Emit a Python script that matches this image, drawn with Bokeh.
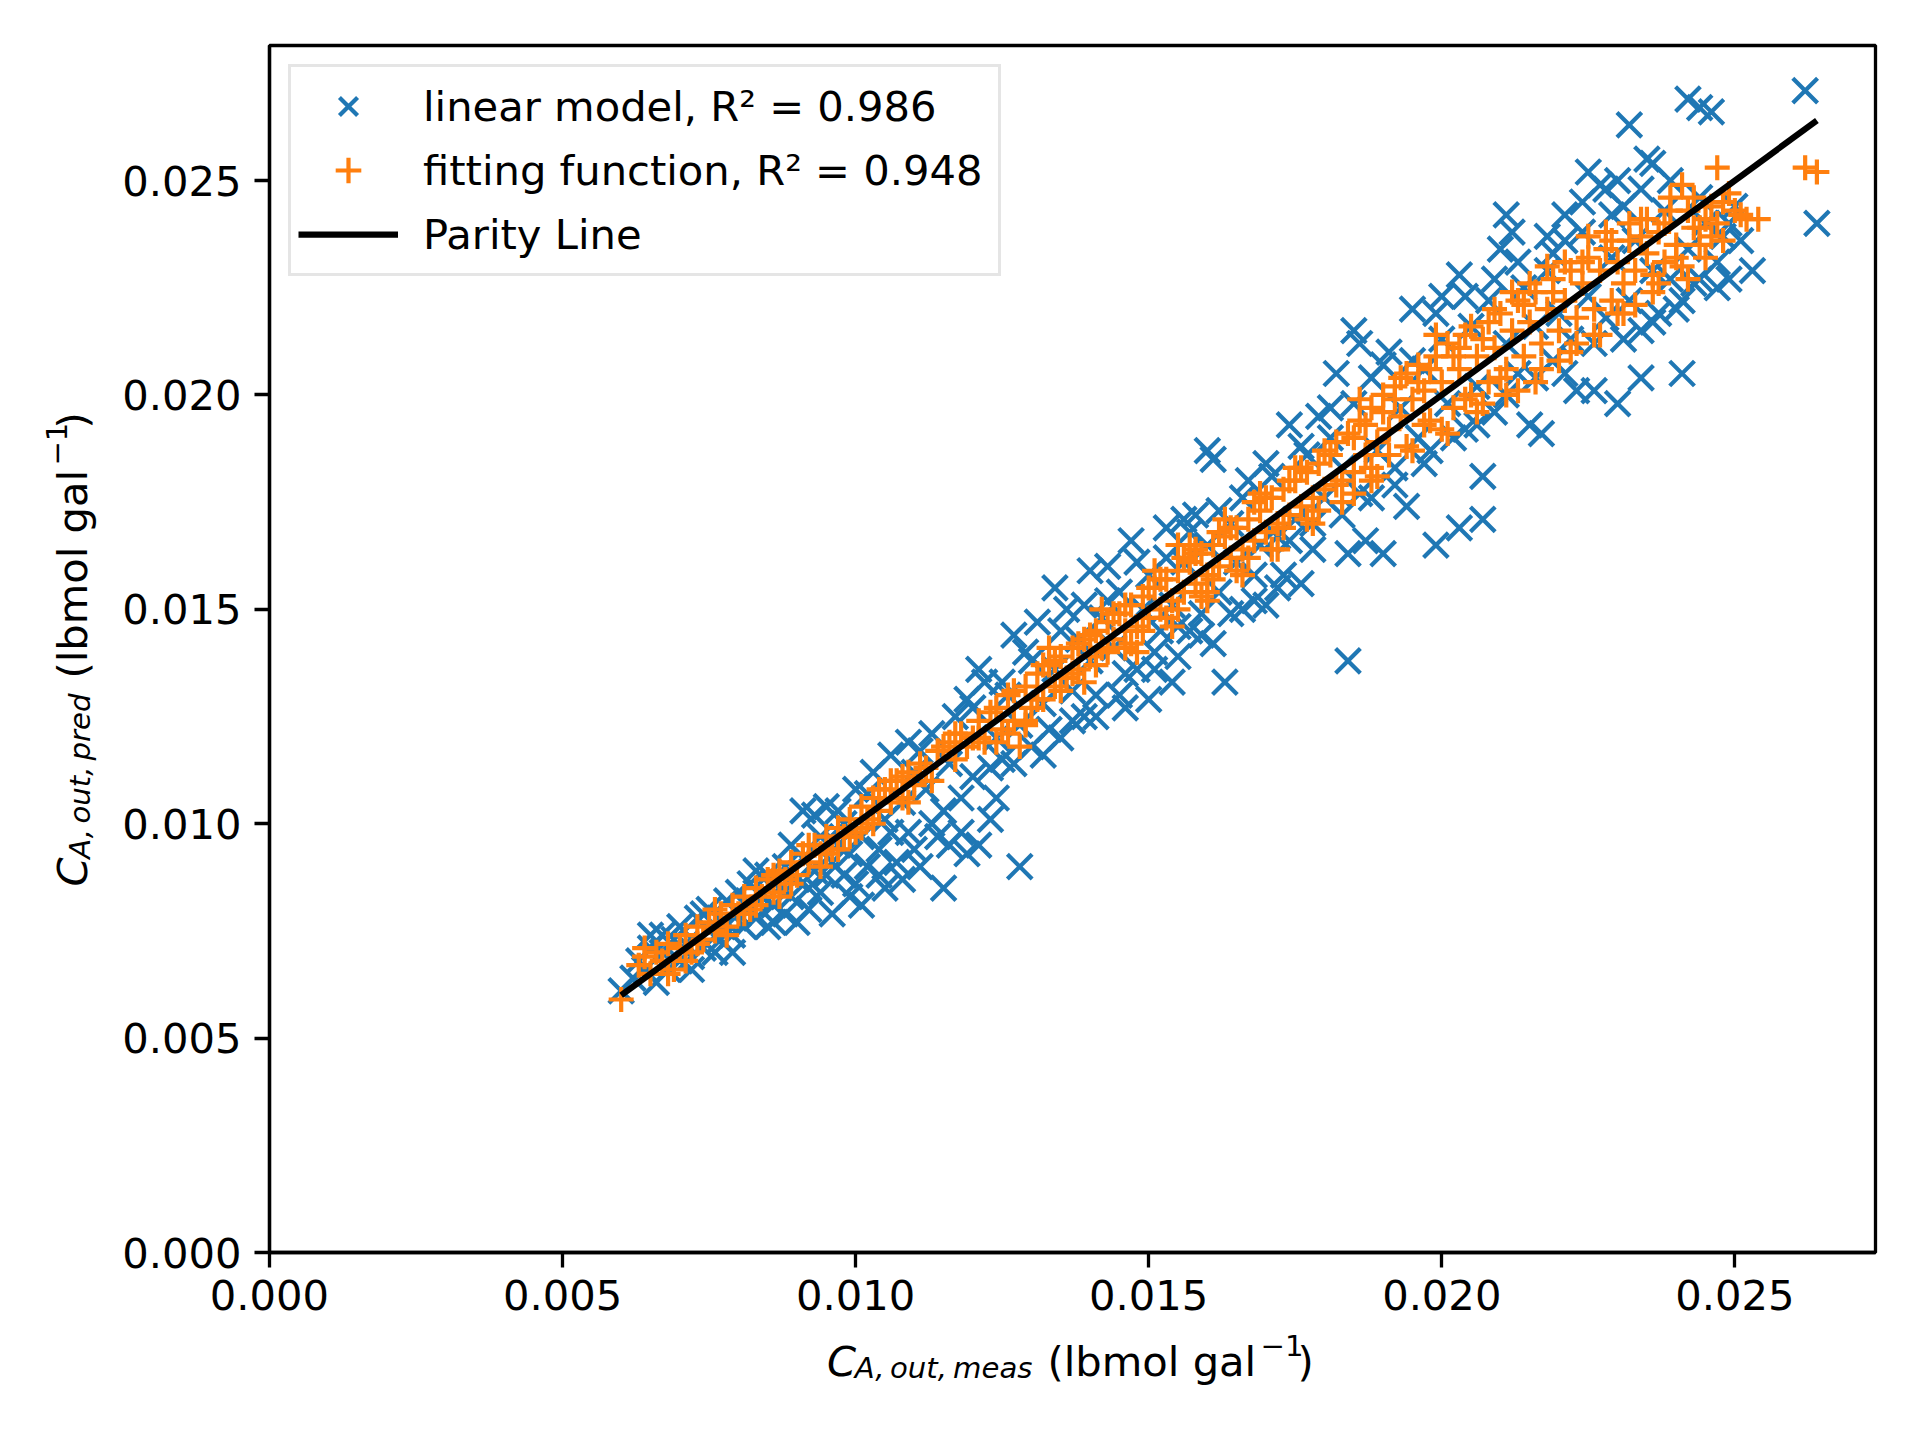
import math
from bokeh.plotting import figure
from bokeh.models import (Range1d, FixedTicker, PrintfTickFormatter, Legend,
                          LegendItem)
from bokeh.layouts import row, column
from bokeh.core.properties import value
from bokeh.embed import file_html
from bokeh.resources import INLINE

# ---------------- data ----------------
lin_meas = [
    0.0060, 0.0062, 0.0063, 0.0064, 0.0065, 0.0065, 0.0066, 0.0067, 0.0068, 0.0069,
    0.0070, 0.0070, 0.0071, 0.0072, 0.0073, 0.0074, 0.0075, 0.0075, 0.0076, 0.0077,
    0.0078, 0.0078, 0.0079, 0.0080, 0.0080, 0.0081, 0.0082, 0.0082, 0.0083, 0.0084,
    0.0085, 0.0085, 0.0086, 0.0087, 0.0088, 0.0088, 0.0089, 0.0090, 0.0090, 0.0091,
    0.0091, 0.0092, 0.0093, 0.0093, 0.0094, 0.0094, 0.0095, 0.0096, 0.0096, 0.0097,
    0.0098, 0.0098, 0.0099, 0.0100, 0.0100, 0.0101, 0.0101, 0.0102, 0.0103, 0.0104,
    0.0105, 0.0105, 0.0106, 0.0107, 0.0108, 0.0108, 0.0109, 0.0110, 0.0110, 0.0111,
    0.0112, 0.0113, 0.0114, 0.0115, 0.0115, 0.0116, 0.0117, 0.0118, 0.0119, 0.0119,
    0.0120, 0.0121, 0.0121, 0.0122, 0.0123, 0.0124, 0.0124, 0.0125, 0.0126, 0.0127,
    0.0128, 0.0128, 0.0129, 0.0130, 0.0131, 0.0132, 0.0133, 0.0134, 0.0134, 0.0135,
    0.0136, 0.0137, 0.0138, 0.0139, 0.0140, 0.0140, 0.0141, 0.0142, 0.0143, 0.0144,
    0.0145, 0.0145, 0.0146, 0.0147, 0.0148, 0.0149, 0.0150, 0.0150, 0.0151, 0.0152,
    0.0153, 0.0154, 0.0154, 0.0155, 0.0156, 0.0156, 0.0157, 0.0158, 0.0159, 0.0160,
    0.0160, 0.0161, 0.0161, 0.0162, 0.0163, 0.0164, 0.0165, 0.0166, 0.0167, 0.0168,
    0.0169, 0.0170, 0.0171, 0.0172, 0.0173, 0.0174, 0.0175, 0.0176, 0.0177, 0.0178,
    0.0179, 0.0180, 0.0181, 0.0182, 0.0183, 0.0184, 0.0184, 0.0185, 0.0186, 0.0186,
    0.0187, 0.0188, 0.0189, 0.0190, 0.0191, 0.0192, 0.0193, 0.0194, 0.0195, 0.0196,
    0.0197, 0.0198, 0.0199, 0.0200, 0.0200, 0.0201, 0.0203, 0.0203, 0.0204, 0.0205,
    0.0206, 0.0207, 0.0207, 0.0208, 0.0209, 0.0210, 0.0211, 0.0211, 0.0212, 0.0213,
    0.0214, 0.0215, 0.0216, 0.0217, 0.0218, 0.0218, 0.0219, 0.0220, 0.0221, 0.0221,
    0.0222, 0.0223, 0.0224, 0.0225, 0.0225, 0.0226, 0.0227, 0.0228, 0.0228, 0.0229,
    0.0230, 0.0230, 0.0231, 0.0232, 0.0232, 0.0233, 0.0234, 0.0234, 0.0235, 0.0236,
    0.0236, 0.0237, 0.0238, 0.0239, 0.0240, 0.0241, 0.0242, 0.0242, 0.0243, 0.0244,
    0.0244, 0.0245, 0.0246, 0.0247, 0.0248, 0.0249, 0.0250, 0.0251, 0.0253, 0.0262,
    0.0264,
    0.0067, 0.0072, 0.0074, 0.0079, 0.0083, 0.0086, 0.0089, 0.0092, 0.0095, 0.0097,
    0.0099, 0.0102, 0.0104, 0.0106, 0.0109, 0.0111, 0.0113, 0.0116, 0.0118, 0.0120,
    0.0123, 0.0125, 0.0127, 0.0130, 0.0132, 0.0135, 0.0137, 0.0139, 0.0141, 0.0143,
    0.0146, 0.0148, 0.0151, 0.0153, 0.0155, 0.0157, 0.0159, 0.0162, 0.0164, 0.0166,
    0.0168, 0.0170, 0.0172, 0.0174, 0.0176, 0.0178, 0.0181, 0.0183, 0.0185, 0.0188,
    0.0190, 0.0192, 0.0195, 0.0197, 0.0199, 0.0202, 0.0204, 0.0206, 0.0209, 0.0211,
    0.0213, 0.0216, 0.0219, 0.0221, 0.0224, 0.0226, 0.0229, 0.0231, 0.0234, 0.0236,
    0.0239, 0.0241, 0.0244, 0.0247, 0.0249,
]
lin_pred = [
    0.0061, 0.0064, 0.0068, 0.0066, 0.0074, 0.0071, 0.0063, 0.0070, 0.0066, 0.0073,
    0.0068, 0.0076, 0.0072, 0.0069, 0.0078, 0.0071, 0.0075, 0.0080, 0.0070, 0.0073,
    0.0082, 0.0077, 0.0074, 0.0079, 0.0084, 0.0076, 0.0086, 0.0080, 0.0078, 0.0083,
    0.0088, 0.0076, 0.0081, 0.0085, 0.0079, 0.0090, 0.0083, 0.0087, 0.0077, 0.0103,
    0.0092, 0.0080, 0.0102, 0.0089, 0.0097, 0.0084, 0.0104, 0.0091, 0.0079, 0.0095,
    0.0088, 0.0100, 0.0093, 0.0086, 0.0108, 0.0081, 0.0097, 0.0090, 0.0112, 0.0094,
    0.0085, 0.0101, 0.0116, 0.0091, 0.0087, 0.0105, 0.0119, 0.0094, 0.0112, 0.0090,
    0.0108, 0.0121, 0.0097, 0.0085, 0.0103, 0.0095, 0.0125, 0.0106, 0.0129, 0.0093,
    0.0111, 0.0136, 0.0095, 0.0133, 0.0113, 0.0106, 0.0120, 0.0115, 0.0130, 0.0144,
    0.0090, 0.0123, 0.0140, 0.0118, 0.0147, 0.0128, 0.0122, 0.0155, 0.0136, 0.0120,
    0.0150, 0.0131, 0.0143, 0.0125, 0.0159, 0.0138, 0.0130, 0.0148, 0.0160, 0.0141,
    0.0130, 0.0154, 0.0127, 0.0166, 0.0136, 0.0150, 0.0129, 0.0158, 0.0140, 0.0145,
    0.0169, 0.0133, 0.0151, 0.0139, 0.0161, 0.0171, 0.0145, 0.0172, 0.0149, 0.0187,
    0.0165, 0.0185, 0.0142, 0.0154, 0.0133, 0.0170, 0.0161, 0.0150, 0.0180, 0.0158,
    0.0165, 0.0151, 0.0181, 0.0167, 0.0158, 0.0193, 0.0171, 0.0156, 0.0186, 0.0164,
    0.0195, 0.0176, 0.0197, 0.0205, 0.0183, 0.0163, 0.0138, 0.0215, 0.0212, 0.0177,
    0.0166, 0.0204, 0.0187, 0.0163, 0.0210, 0.0179, 0.0197, 0.0174, 0.0220, 0.0190,
    0.0206, 0.0187, 0.0165, 0.0213, 0.0223, 0.0198, 0.0228, 0.0169, 0.0192, 0.0216,
    0.0202, 0.0181, 0.0171, 0.0222, 0.0196, 0.0234, 0.0242, 0.0212, 0.0238, 0.0205,
    0.0225, 0.0193, 0.0216, 0.0191, 0.0237, 0.0229, 0.0208, 0.0219, 0.0242, 0.0236,
    0.0213, 0.0201, 0.0245, 0.0252, 0.0223, 0.0201, 0.0249, 0.0218, 0.0248, 0.0232,
    0.0250, 0.0198, 0.0244, 0.0263, 0.0222, 0.0236, 0.0204, 0.0215, 0.0255, 0.0254,
    0.0229, 0.0219, 0.0243, 0.0227, 0.0220, 0.0205, 0.0269, 0.0234, 0.0226, 0.0267,
    0.0227, 0.0240, 0.0266, 0.0231, 0.0237, 0.0227, 0.0244, 0.0236, 0.0229, 0.0271,
    0.0240,
    0.0074, 0.0066, 0.0079, 0.0070, 0.0089, 0.0077, 0.0095, 0.0085, 0.0088, 0.0103,
    0.0083, 0.0107, 0.0088, 0.0098, 0.0098, 0.0117, 0.0100, 0.0114, 0.0098, 0.0127,
    0.0101, 0.0133, 0.0114, 0.0138, 0.0116, 0.0145, 0.0124, 0.0151, 0.0125, 0.0152,
    0.0135, 0.0161, 0.0136, 0.0162, 0.0146, 0.0168, 0.0144, 0.0173, 0.0149, 0.0176,
    0.0152, 0.0184, 0.0155, 0.0166, 0.0188, 0.0170, 0.0190, 0.0172, 0.0198, 0.0176,
    0.0207, 0.0183, 0.0208, 0.0184, 0.0219, 0.0190, 0.0223, 0.0193, 0.0227, 0.0200,
    0.0231, 0.0204, 0.0233, 0.0205, 0.0238, 0.0212, 0.0242, 0.0213, 0.0248, 0.0217,
    0.0250, 0.0222, 0.0246, 0.0225, 0.0240,
]

fit_meas = [
    0.0060, 0.0063, 0.0064, 0.0065, 0.0066, 0.0067, 0.0068, 0.0069, 0.0070, 0.0071,
    0.0072, 0.0073, 0.0074, 0.0075, 0.0076, 0.0077, 0.0078, 0.0079, 0.0080, 0.0081,
    0.0082, 0.0083, 0.0084, 0.0085, 0.0086, 0.0087, 0.0088, 0.0089, 0.0090, 0.0091,
    0.0092, 0.0093, 0.0094, 0.0095, 0.0096, 0.0097, 0.0098, 0.0099, 0.0100, 0.0101,
    0.0102, 0.0103, 0.0104, 0.0105, 0.0106, 0.0107, 0.0108, 0.0109, 0.0110, 0.0112,
    0.0114, 0.0116, 0.0117, 0.0118, 0.0120, 0.0121, 0.0122, 0.0124, 0.0125, 0.0126,
    0.0127, 0.0128, 0.0129, 0.0130, 0.0131, 0.0132, 0.0133, 0.0134, 0.0135, 0.0136,
    0.0137, 0.0138, 0.0139, 0.0140, 0.0141, 0.0142, 0.0143, 0.0144, 0.0145, 0.0146,
    0.0147, 0.0148, 0.0149, 0.0150, 0.0151, 0.0152, 0.0153, 0.0154, 0.0155, 0.0156,
    0.0157, 0.0158, 0.0159, 0.0160, 0.0161, 0.0162, 0.0163, 0.0164, 0.0165, 0.0166,
    0.0167, 0.0168, 0.0169, 0.0170, 0.0171, 0.0172, 0.0173, 0.0174, 0.0175, 0.0176,
    0.0177, 0.0178, 0.0179, 0.0180, 0.0181, 0.0182, 0.0183, 0.0184, 0.0185, 0.0186,
    0.0187, 0.0188, 0.0189, 0.0190, 0.0191, 0.0192, 0.0193, 0.0194, 0.0195, 0.0196,
    0.0197, 0.0198, 0.0199, 0.0200, 0.0201, 0.0202, 0.0203, 0.0204, 0.0205, 0.0206,
    0.0207, 0.0208, 0.0209, 0.0210, 0.0211, 0.0212, 0.0213, 0.0214, 0.0215, 0.0216,
    0.0217, 0.0218, 0.0219, 0.0220, 0.0221, 0.0222, 0.0223, 0.0224, 0.0225, 0.0226,
    0.0227, 0.0228, 0.0229, 0.0230, 0.0231, 0.0232, 0.0233, 0.0234, 0.0235, 0.0236,
    0.0237, 0.0238, 0.0239, 0.0240, 0.0241, 0.0242, 0.0243, 0.0244, 0.0245, 0.0246,
    0.0247, 0.0248, 0.0249, 0.0250, 0.0252, 0.0254, 0.0262, 0.0264,
    0.0146, 0.0155, 0.0160, 0.0158, 0.0129, 0.0124, 0.0185, 0.0188,
    0.0064, 0.0068, 0.0071, 0.0073, 0.0076, 0.0078, 0.0081, 0.0083, 0.0086, 0.0087,
    0.0089, 0.0092, 0.0094, 0.0095, 0.0097, 0.0099, 0.0101, 0.0103, 0.0104, 0.0106,
    0.0108, 0.0109, 0.0111, 0.0113, 0.0115, 0.0117, 0.0119, 0.0121, 0.0123, 0.0126,
    0.0127, 0.0129, 0.0131, 0.0132, 0.0134, 0.0135, 0.0137, 0.0138, 0.0140, 0.0141,
    0.0143, 0.0144, 0.0146, 0.0147, 0.0149, 0.0150, 0.0152, 0.0153, 0.0155, 0.0156,
    0.0158, 0.0159, 0.0161, 0.0162, 0.0164, 0.0165, 0.0167, 0.0168, 0.0170, 0.0171,
    0.0173, 0.0174, 0.0176, 0.0177, 0.0179, 0.0180, 0.0182, 0.0183, 0.0185, 0.0186,
    0.0188, 0.0190, 0.0191, 0.0193, 0.0194, 0.0196, 0.0197, 0.0199, 0.0200, 0.0202,
    0.0204, 0.0205, 0.0207, 0.0209, 0.0210, 0.0212, 0.0213, 0.0215, 0.0217, 0.0218,
    0.0220, 0.0221, 0.0223, 0.0225, 0.0226, 0.0228, 0.0230, 0.0232, 0.0233, 0.0235,
    0.0237, 0.0239, 0.0241, 0.0243, 0.0246, 0.0248, 0.0251,
    0.0133, 0.0139, 0.0142, 0.0148, 0.0151, 0.0154, 0.0157, 0.0160, 0.0163, 0.0166,
    0.0169, 0.0172, 0.0175, 0.0178, 0.0187, 0.0189, 0.0192, 0.0195, 0.0198, 0.0201,
    0.0203, 0.0206, 0.0208, 0.0211, 0.0214, 0.0216, 0.0219, 0.0222, 0.0224, 0.0227,
    0.0229, 0.0231, 0.0234, 0.0236, 0.0238, 0.0240, 0.0242, 0.0244, 0.0245, 0.0247,
]
fit_pred = [
    0.0059, 0.0067, 0.0069, 0.0065, 0.0070, 0.0068, 0.0072, 0.0066, 0.0071, 0.0074,
    0.0070, 0.0076, 0.0073, 0.0077, 0.0075, 0.0079, 0.0076, 0.0081, 0.0079, 0.0083,
    0.0080, 0.0085, 0.0083, 0.0087, 0.0084, 0.0089, 0.0087, 0.0091, 0.0088, 0.0093,
    0.0091, 0.0095, 0.0093, 0.0097, 0.0094, 0.0099, 0.0097, 0.0101, 0.0098, 0.0104,
    0.0101, 0.0106, 0.0103, 0.0108, 0.0105, 0.0110, 0.0106, 0.0112, 0.0109, 0.0113,
    0.0117, 0.0119, 0.0115, 0.0121, 0.0120, 0.0124, 0.0119, 0.0127, 0.0122, 0.0130,
    0.0124, 0.0118, 0.0132, 0.0127, 0.0135, 0.0129, 0.0137, 0.0132, 0.0139, 0.0134,
    0.0141, 0.0136, 0.0143, 0.0139, 0.0145, 0.0141, 0.0147, 0.0143, 0.0149, 0.0145,
    0.0151, 0.0146, 0.0153, 0.0148, 0.0155, 0.0150, 0.0157, 0.0152, 0.0159, 0.0154,
    0.0161, 0.0156, 0.0163, 0.0158, 0.0165, 0.0160, 0.0167, 0.0162, 0.0169, 0.0164,
    0.0171, 0.0166, 0.0173, 0.0168, 0.0176, 0.0170, 0.0178, 0.0172, 0.0180, 0.0174,
    0.0182, 0.0176, 0.0184, 0.0178, 0.0186, 0.0179, 0.0175, 0.0191, 0.0182, 0.0194,
    0.0186, 0.0197, 0.0189, 0.0200, 0.0192, 0.0202, 0.0195, 0.0205, 0.0199, 0.0207,
    0.0201, 0.0194, 0.0209, 0.0203, 0.0212, 0.0197, 0.0206, 0.0214, 0.0200, 0.0209,
    0.0213, 0.0203, 0.0211, 0.0219, 0.0206, 0.0215, 0.0222, 0.0209, 0.0217, 0.0224,
    0.0212, 0.0220, 0.0227, 0.0215, 0.0222, 0.0229, 0.0218, 0.0226, 0.0237, 0.0220,
    0.0229, 0.0234, 0.0222, 0.0231, 0.0226, 0.0236, 0.0229, 0.0241, 0.0233, 0.0224,
    0.0238, 0.0231, 0.0243, 0.0235, 0.0249, 0.0227, 0.0246, 0.0239, 0.0232, 0.0244,
    0.0253, 0.0236, 0.0247, 0.0243, 0.0241, 0.0241, 0.0253, 0.0252,
    0.0141, 0.0165, 0.0154, 0.0164, 0.0123, 0.0119, 0.0190, 0.0180,
    0.0071, 0.0065, 0.0068, 0.0072, 0.0080, 0.0074, 0.0079, 0.0081, 0.0088, 0.0083,
    0.0086, 0.0095, 0.0090, 0.0093, 0.0094, 0.0097, 0.0099, 0.0100, 0.0108, 0.0110,
    0.0111, 0.0105, 0.0114, 0.0110, 0.0118, 0.0121, 0.0118, 0.0120, 0.0126, 0.0121,
    0.0131, 0.0124, 0.0129, 0.0137, 0.0138, 0.0131, 0.0135, 0.0142, 0.0144, 0.0137,
    0.0140, 0.0149, 0.0151, 0.0142, 0.0145, 0.0155, 0.0157, 0.0148, 0.0150, 0.0162,
    0.0163, 0.0153, 0.0157, 0.0168, 0.0169, 0.0159, 0.0162, 0.0175, 0.0176, 0.0164,
    0.0169, 0.0180, 0.0183, 0.0171, 0.0173, 0.0187, 0.0189, 0.0180, 0.0177, 0.0199,
    0.0183, 0.0196, 0.0186, 0.0204, 0.0188, 0.0203, 0.0193, 0.0214, 0.0192, 0.0209,
    0.0199, 0.0216, 0.0198, 0.0220, 0.0204, 0.0224, 0.0201, 0.0226, 0.0206, 0.0230,
    0.0208, 0.0231, 0.0212, 0.0232, 0.0214, 0.0238, 0.0219, 0.0240, 0.0221, 0.0241,
    0.0226, 0.0246, 0.0230, 0.0239, 0.0237, 0.0245, 0.0242,
    0.0141, 0.0133, 0.0150, 0.0140, 0.0159, 0.0146, 0.0165, 0.0152, 0.0171, 0.0158,
    0.0177, 0.0164, 0.0183, 0.0170, 0.0193, 0.0181, 0.0199, 0.0187, 0.0206, 0.0191,
    0.0211, 0.0196, 0.0217, 0.0200, 0.0221, 0.0203, 0.0224, 0.0210, 0.0231, 0.0214,
    0.0236, 0.0219, 0.0237, 0.0228, 0.0240, 0.0232, 0.0243, 0.0235, 0.0241, 0.0240,
]

legend_labels = ["linear model, R\u00b2 = 0.986",
                 "fitting function, R\u00b2 = 0.948",
                 "Parity Line"]
tick_values = [0.000, 0.005, 0.010, 0.015, 0.020, 0.025]

# ---------------- layout constants ----------------
XMAX, YMAX = 0.0274, 0.02815
FW, FH = 1606, 1207
LB, TB, RB, BB = 159, 45, 44, 78
YW = 110                      # width of the y-label strip
MAIN_W = LB + FW + RB
MAIN_H = TB + FH + BB
XH = 108                      # height of the x-label strip
BIG, SMALL = "41.67px", "29.17px"
FONT = "DejaVu Sans"
SHIFT = 15                    # glyph baseline compensation (px)

p = figure(frame_width=FW, frame_height=FH,
           min_border_left=LB, min_border_top=TB,
           min_border_right=RB, min_border_bottom=BB,
           x_range=Range1d(0, XMAX), y_range=Range1d(0, YMAX),
           output_backend="svg", toolbar_location=None)
p.grid.visible = False
p.background_fill_color = "white"
p.border_fill_color = "white"
p.outline_line_color = "black"
p.outline_line_width = 3.3

for ax in (p.xaxis[0], p.yaxis[0]):
    ax.ticker = FixedTicker(ticks=tick_values)
    ax.formatter = PrintfTickFormatter(format="%.3f")
    ax.axis_line_width = 3.3
    ax.axis_line_color = "black"
    ax.major_tick_line_width = 3.3
    ax.major_tick_line_color = "black"
    ax.major_tick_out = 15
    ax.major_tick_in = 0
    ax.minor_tick_line_color = None
    ax.major_label_text_font = FONT
    ax.major_label_text_font_size = BIG
    ax.major_label_text_color = "black"
p.xaxis[0].major_label_standoff = 12
p.yaxis[0].major_label_standoff = 13

r_lin = p.scatter(lin_meas, lin_pred, marker="x", size=35,
                  line_color="#1f77b4", line_width=4.2)
r_fit = p.scatter(fit_meas, fit_pred, marker="cross", size=25,
                  line_color="#ff7f0e", line_width=4.2)
lo = min(lin_meas + fit_meas)
hi = max(lin_meas + fit_meas)
r_par = p.line([lo, hi], [lo, hi], line_color="black", line_width=6.25)

legend = Legend(items=[LegendItem(label=legend_labels[0], renderers=[r_lin]),
                       LegendItem(label=legend_labels[1], renderers=[r_fit]),
                       LegendItem(label=legend_labels[2], renderers=[r_par])],
                location=(19, FH - 25 - 206),
                label_text_font=FONT, label_text_font_size=BIG,
                label_text_color="black",
                glyph_width=100, glyph_height=64, label_height=64,
                label_width=568, label_standoff=25, padding=7, spacing=0,
                margin=0,
                border_line_color="#cccccc", border_line_width=3.5,
                background_fill_color="white", background_fill_alpha=0.8)
p.add_layout(legend)


def text_strip(w, h, top=0, bottom=0):
    f = figure(width=w, height=h,
               x_range=Range1d(0, w), y_range=Range1d(0, h - top - bottom),
               min_border_left=0, min_border_right=0,
               min_border_top=top, min_border_bottom=bottom,
               x_axis_location=None, y_axis_location=None,
               output_backend="svg", toolbar_location=None)
    f.grid.visible = False
    f.outline_line_color = None
    f.background_fill_color = "white"
    f.border_fill_color = "white"
    return f


def put(f, xs, ys, texts, size, style, angle=0.0):
    f.text(x=xs, y=ys, text=texts, angle=angle,
           text_font=value(FONT), text_font_size=value(size),
           text_font_style=style, text_color="black",
           text_align="left", text_baseline="alphabetic")


# x-axis label strip: C_{A,out,meas} (lbmol gal^-1)
xf = text_strip(YW + MAIN_W, XH)
xb = 62.3 + SHIFT
put(xf, [826.6], [xb], ["C"], BIG, "italic")
put(xf, [854.3, 889.5, 952.6], [xb - 7] * 3, ["A,", "out,", "meas"],
    SMALL, "italic")
put(xf, [1047.0, 1297.0], [xb, xb], ["(lbmol gal", ")"], BIG, "normal")
put(xf, [1260.0], [xb + 16], ["\u22121"], SMALL, "normal")

# y-axis label strip: C_{A,out,pred} (lbmol gal^-1), rotated
yf = text_strip(YW, MAIN_H, top=TB, bottom=BB)
A = math.pi / 2
yb = 91.3 - SHIFT - 4
put(yf, [yb], [366.0], ["C"], BIG, "italic", A)
put(yf, [yb + 7] * 3, [393.7, 428.9, 492.0], ["A,", "out,", "pred"],
    SMALL, "italic", A)
put(yf, [yb, yb], [573.9, 823.9], ["(lbmol gal", ")"], BIG, "normal", A)
put(yf, [yb - 16], [786.9], ["\u22121"], SMALL, "normal", A)

layout = column(row(yf, p), xf)
open("out.html", "w").write(file_html(layout, INLINE))
